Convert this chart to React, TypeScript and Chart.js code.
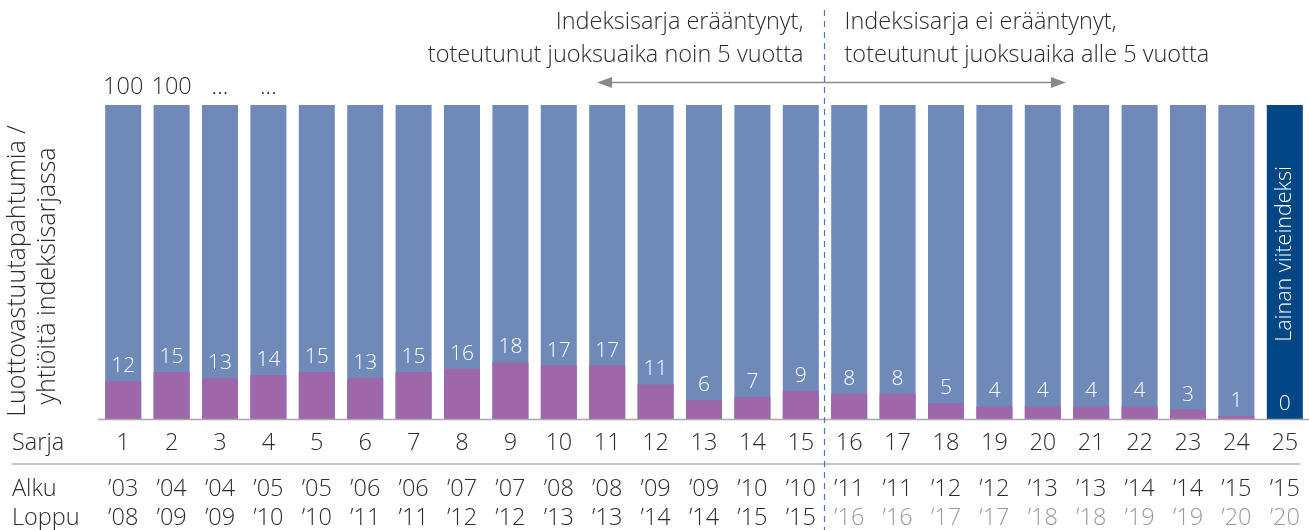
import React, { useEffect, useRef } from "react";
import { Chart, registerables } from "chart.js";

Chart.register(...registerables);

const SERIES = ["1","2","3","4","5","6","7","8","9","10","11","12","13","14","15","16","17","18","19","20","21","22","23","24","25"];
const DEFAULTS = [12,15,13,14,15,13,15,16,18,17,17,11,6,7,9,8,8,5,4,4,4,4,3,1,0];
const TOTALS = [100,100,100,100,100,100,100,100,100,100,100,100,100,100,100,100,100,100,100,100,100,100,100,100,null];
const REFERENCE = [null,null,null,null,null,null,null,null,null,null,null,null,null,null,null,null,null,null,null,null,null,null,null,null,100];
const TOP_LABELS = ["100","100","...","..."];
const ALKU = ["’03","’04","’04","’05","’05","’06","’06","’07","’07","’08","’08","’09","’09","’10","’10","’11","’11","’12","’12","’13","’13","’14","’14","’15","’15"];
const LOPPU = ["’08","’09","’09","’10","’10","’11","’11","’12","’12","’13","’13","’14","’14","’15","’15","’16","’16","’17","’17","’18","’18","’19","’19","’20","’20"];
const MATURED_COUNT = 15;

const FONT = "'Open Sans', Lato, sans-serif";
const W = "300";
const DARK = "#2b2b2b";
const GREY = "#9a9a9a";

const overlay = {
  id: "overlay",
  afterDatasetsDraw(chart: any) {
    const ctx = chart.ctx as CanvasRenderingContext2D;
    const x = chart.scales.x;
    const y = chart.scales.y;
    ctx.save();

    // baseline
    ctx.strokeStyle = "#a8a8a8";
    ctx.lineWidth = 1.5;
    ctx.beginPath();
    ctx.moveTo(98, y.getPixelForValue(0) + 0.5);
    ctx.lineTo(chart.width, y.getPixelForValue(0) + 0.5);
    ctx.stroke();

    // values inside bars
    ctx.font = `${W} 21px ${FONT}`;
    ctx.fillStyle = "#ffffff";
    ctx.textAlign = "center";
    ctx.textBaseline = "middle";
    DEFAULTS.forEach((v, i) => {
      ctx.fillText(String(v), x.getPixelForValue(i), y.getPixelForValue(v) - 15);
    });

    // top labels
    ctx.font = `${W} 23.5px ${FONT}`;
    ctx.fillStyle = DARK;
    TOP_LABELS.forEach((t, i) => {
      ctx.fillText(t, x.getPixelForValue(i), y.getPixelForValue(100) - 18);
    });

    // reference bar label
    const last = SERIES.length - 1;
    ctx.save();
    ctx.translate(x.getPixelForValue(last), 254);
    ctx.rotate(-Math.PI / 2);
    ctx.fillStyle = "#ffffff";
    ctx.font = `${W} 21.5px ${FONT}`;
    ctx.fillText("Lainan viiteindeksi", 0, 0);
    ctx.restore();

    // bottom rows
    const rowSarja = 443;
    const rowAlku = 489;
    const rowLoppu = 518;
    ctx.font = `${W} 23.5px ${FONT}`;
    ctx.textAlign = "left";
    ctx.fillStyle = DARK;
    ctx.fillText("Sarja", 12, rowSarja);
    ctx.fillText("Alku", 12, rowAlku);
    ctx.fillText("Loppu", 12, rowLoppu);
    ctx.textAlign = "center";
    SERIES.forEach((s, i) => {
      const px = x.getPixelForValue(i);
      ctx.fillStyle = DARK;
      ctx.fillText(s, px, rowSarja);
      ctx.fillText(ALKU[i], px, rowAlku);
      ctx.fillStyle = i < MATURED_COUNT ? DARK : GREY;
      ctx.fillText(LOPPU[i], px, rowLoppu);
    });

    // separator line
    ctx.strokeStyle = "#b0b0b0";
    ctx.lineWidth = 1.5;
    ctx.beginPath();
    ctx.moveTo(12, 464);
    ctx.lineTo(1300, 464);
    ctx.stroke();

    // y title
    ctx.save();
    ctx.translate(18, 271);
    ctx.rotate(-Math.PI / 2);
    ctx.fillStyle = DARK;
    ctx.font = `${W} 25px ${FONT}`;
    ctx.textAlign = "center";
    ctx.fillText("Luottovastuutapahtumia /", 0, 0);
    ctx.fillText("yhtiöitä indeksisarjassa", -5, 30);
    ctx.restore();

    // divider
    const divX = Math.round((x.getPixelForValue(MATURED_COUNT - 1) + x.getPixelForValue(MATURED_COUNT)) / 2) - 0.5;
    ctx.strokeStyle = "#4a74bd";
    ctx.lineWidth = 1.2;
    ctx.setLineDash([6, 5]);
    ctx.beginPath();
    ctx.moveTo(divX, 10);
    ctx.lineTo(divX, chart.height);
    ctx.stroke();
    ctx.setLineDash([]);

    // annotations
    ctx.fillStyle = DARK;
    ctx.font = `${W} 23.5px ${FONT}`;
    ctx.textAlign = "right";
    ctx.fillText("Indeksisarja erääntynyt,", divX - 21, 22);
    ctx.fillText("toteutunut juoksuaika noin 5 vuotta", divX - 21, 55);
    ctx.textAlign = "left";
    ctx.fillText("Indeksisarja ei erääntynyt,", divX + 20, 22);
    ctx.fillText("toteutunut juoksuaika alle 5 vuotta", divX + 20, 55);

    // arrow
    const ay = 82.5;
    const ax1 = 597;
    const ax2 = 1066;
    ctx.strokeStyle = "#8a8a8a";
    ctx.fillStyle = "#8a8a8a";
    ctx.lineWidth = 1.5;
    ctx.beginPath();
    ctx.moveTo(ax1 + 10, ay);
    ctx.lineTo(ax2 - 10, ay);
    ctx.stroke();
    ctx.beginPath();
    ctx.moveTo(ax1, ay);
    ctx.lineTo(ax1 + 15, ay - 5.5);
    ctx.lineTo(ax1 + 15, ay + 5.5);
    ctx.closePath();
    ctx.fill();
    ctx.beginPath();
    ctx.moveTo(ax2, ay);
    ctx.lineTo(ax2 - 15, ay - 5.5);
    ctx.lineTo(ax2 - 15, ay + 5.5);
    ctx.closePath();
    ctx.fill();

    ctx.restore();
  },
};

export default function App() {
  const ref = useRef<HTMLCanvasElement>(null);
  useEffect(() => {
    document.body.style.margin = "0";
    const chart = new Chart(ref.current!, {
      type: "bar",
      data: {
        labels: SERIES,
        datasets: [
          { label: "Luottovastuutapahtumia", data: DEFAULTS, backgroundColor: "#9e67aa", grouped: false } as any,
          { label: "Yhtiöitä", data: TOTALS, backgroundColor: "#6f89b8", grouped: false } as any,
          { label: "Lainan viiteindeksi", data: REFERENCE, backgroundColor: "#014785", grouped: false } as any,
        ],
      },
      options: {
        animation: false,
        responsive: false,
        maintainAspectRatio: false,
        layout: { padding: { left: 99, right: 0, top: 105, bottom: 111 } },
        datasets: { bar: { barPercentage: 0.744, categoryPercentage: 1 } },
        scales: {
          x: { display: false, offset: true },
          y: { display: false, min: 0, max: 100 },
        },
        plugins: { legend: { display: false }, tooltip: { enabled: false } },
      },
      plugins: [overlay],
    });
    return () => chart.destroy();
  }, []);
  return (
    <div style={{ width: 1309, height: 530 }}>
      <canvas ref={ref} width={1309} height={530} style={{ display: "block" }} />
    </div>
  );
}
